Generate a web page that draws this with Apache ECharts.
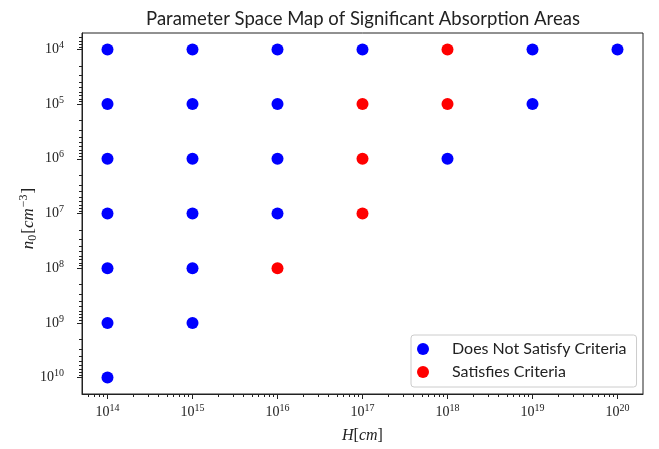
<!DOCTYPE html>
<html>
<head>
<meta charset="utf-8">
<script src="https://cdn.jsdelivr.net/npm/echarts@6/dist/echarts.min.js"></script>
<style>
html,body{margin:0;padding:0;background:#fff;}
#chart{width:659px;height:449px;}
</style>
</head>
<body>
<div id="chart"></div>
<script>
// H [cm] tick values and n0 [cm^-3] tick values
const hTicks = [1e14, 1e15, 1e16, 1e17, 1e18, 1e19, 1e20];
const n0Ticks = [1e4, 1e5, 1e6, 1e7, 1e8, 1e9, 1e10];

// [H, n0] points
const notSatisfyPoints = [
  [1e14, 1e4], [1e15, 1e4], [1e16, 1e4], [1e17, 1e4], [1e19, 1e4], [1e20, 1e4],
  [1e14, 1e5], [1e15, 1e5], [1e16, 1e5], [1e19, 1e5],
  [1e14, 1e6], [1e15, 1e6], [1e16, 1e6], [1e18, 1e6],
  [1e14, 1e7], [1e15, 1e7], [1e16, 1e7],
  [1e14, 1e8], [1e15, 1e8],
  [1e14, 1e9], [1e15, 1e9],
  [1e14, 1e10]
];
const satisfyPoints = [
  [1e18, 1e4],
  [1e17, 1e5], [1e18, 1e5],
  [1e17, 1e6],
  [1e17, 1e7],
  [1e16, 1e8]
];

const seriesNames = ['Does Not Satisfy Criteria', 'Satisfies Criteria'];
const titleText = 'Parameter Space Map of Significant Absorption Areas';

// axis ranges (log10 exponents, matplotlib-style 5% margins)
const hRangeExp = [13.7, 20.3];
const n0RangeExp = [3.7, 10.3];

// log-style minor tick values (2..9 x 10^n) inside a range
function minorTicks(rangeExp) {
  const out = [];
  for (let n = Math.floor(rangeExp[0]); n <= Math.ceil(rangeExp[1]); n++) {
    for (let k = 2; k <= 9; k++) {
      const e = Math.log10(k) + n;
      if (e > rangeExp[0] && e < rangeExp[1]) out.push(k * Math.pow(10, n));
    }
  }
  return out;
}
const hMinor = minorTicks(hRangeExp);
const n0Minor = minorTicks(n0RangeExp);

const serif = '"Liberation Serif", "DejaVu Serif", serif';
const sans = '"Lato", "Open Sans", "DejaVu Sans", sans-serif';
const ink = '#222';

function expLabel(v) {
  const e = Math.log10(v);
  const r = Math.round(e);
  if (Math.abs(e - r) > 1e-6) return '';
  return '{b|10}{s|' + r + '}';
}
const tickRich = {
  b: { fontFamily: serif, fontSize: 14, color: ink },
  s: { fontFamily: serif, fontSize: 10, color: ink, padding: [0, 0, 8, 0] }
};
const xNameRich = {
  i: { fontFamily: serif, fontStyle: 'italic', fontSize: 16, color: ink },
  t: { fontFamily: serif, fontSize: 16, color: ink }
};
const yNameRich = {
  i: { fontFamily: serif, fontStyle: 'italic', fontSize: 17, color: ink },
  t: { fontFamily: serif, fontSize: 17, color: ink },
  sub: { fontFamily: serif, fontSize: 12, color: ink, padding: [7, 1, 0, 0] },
  sup: { fontFamily: serif, fontSize: 12, color: ink, padding: [0, 1, 10, 1] }
};

const chart = echarts.init(document.getElementById('chart'), null, { renderer: 'canvas' });
chart.setOption({
  backgroundColor: '#fff',
  animation: false,
  title: {
    text: titleText,
    left: 358, textAlign: 'center', top: 5,
    textStyle: { fontFamily: sans, fontSize: 18.5, fontWeight: 'normal', color: ink }
  },
  grid: {
    left: 82, right: 16, top: 33, bottom: 53,
    show: true, borderColor: ink, borderWidth: 1, backgroundColor: 'transparent'
  },
  legend: {
    orient: 'vertical',
    left: 411, top: 335,
    padding: [6, 10, 7, 6],
    itemGap: 7,
    itemWidth: 32, itemHeight: 12,
    icon: 'circle',
    borderColor: '#ccc', borderWidth: 1, borderRadius: 3,
    backgroundColor: 'rgba(255,255,255,0.8)',
    textStyle: { fontFamily: sans, fontSize: 16, color: ink, padding: [0, 0, 0, 8] },
    data: seriesNames
  },
  xAxis: [
    {
      type: 'log', logBase: 10,
      min: Math.pow(10, hRangeExp[0]), max: Math.pow(10, hRangeExp[1]),
      splitLine: { show: false },
      axisLine: { lineStyle: { color: ink } },
      axisTick: { show: true, length: 5, customValues: hTicks, lineStyle: { color: ink } },
      minorTick: { show: false },
      axisLabel: { formatter: expLabel, rich: tickRich, margin: 9, customValues: hTicks },
      name: '{i|H}{t|[}{i|cm}{t|]}',
      nameLocation: 'middle', nameGap: 34, nameMoveOverlap: false,
      nameTextStyle: { rich: xNameRich }
    },
    {
      type: 'log', logBase: 10, position: 'bottom', gridIndex: 0,
      min: Math.pow(10, hRangeExp[0]), max: Math.pow(10, hRangeExp[1]),
      splitLine: { show: false },
      axisLine: { show: false },
      axisTick: { show: true, length: 3, customValues: hMinor, lineStyle: { color: ink } },
      axisLabel: { show: false }
    }
  ],
  yAxis: [
    {
      type: 'log', logBase: 10, inverse: true,
      min: Math.pow(10, n0RangeExp[0]), max: Math.pow(10, n0RangeExp[1]),
      splitLine: { show: false },
      axisLine: { lineStyle: { color: ink } },
      axisTick: { show: true, length: 5, customValues: n0Ticks, lineStyle: { color: ink } },
      minorTick: { show: false },
      axisLabel: { formatter: expLabel, rich: tickRich, margin: 18, customValues: n0Ticks },
      name: '{i|n}{sub|0}{t|[}{i|cm}{sup|−3}{t|]}',
      nameLocation: 'middle', nameGap: 42, nameRotate: 90, nameMoveOverlap: false,
      nameTextStyle: { rich: yNameRich, padding: [0, 10, 0, 0] }
    },
    {
      type: 'log', logBase: 10, inverse: true, position: 'left', gridIndex: 0,
      min: Math.pow(10, n0RangeExp[0]), max: Math.pow(10, n0RangeExp[1]),
      splitLine: { show: false },
      axisLine: { show: false },
      axisTick: { show: true, length: 3, customValues: n0Minor, lineStyle: { color: ink } },
      axisLabel: { show: false }
    }
  ],
  series: [
    {
      name: seriesNames[0], type: 'scatter', symbol: 'circle', symbolSize: 12,
      xAxisIndex: 0, yAxisIndex: 0,
      itemStyle: { color: '#0000ff', opacity: 1 },
      data: notSatisfyPoints
    },
    {
      name: seriesNames[1], type: 'scatter', symbol: 'circle', symbolSize: 12,
      xAxisIndex: 0, yAxisIndex: 0,
      itemStyle: { color: '#ff0000', opacity: 1 },
      data: satisfyPoints
    }
  ]
});
</script>
</body>
</html>
